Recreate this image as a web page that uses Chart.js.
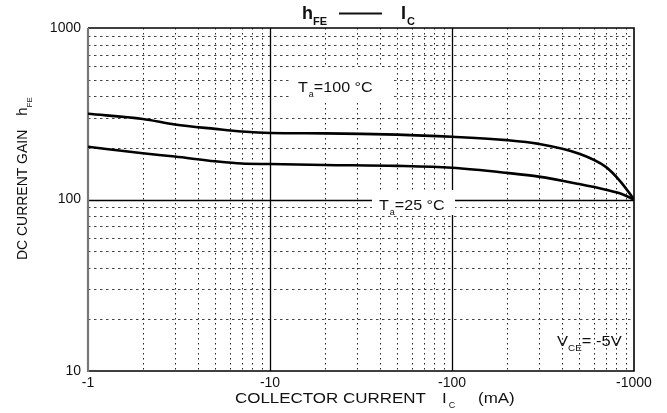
<!DOCTYPE html>
<html>
<head>
<meta charset="utf-8">
<script src="https://cdn.jsdelivr.net/npm/chart.js@4.4.1/dist/chart.umd.min.js"></script>
<style>
  body { margin: 0; background: #fff; }
  canvas { display: block; }
</style>
</head>
<body>
<canvas id="hfe" width="667" height="413"></canvas>
<script>
// collector current magnitude (mA), axis shows it as negative
const current = [1, 2, 3, 5, 7, 10, 20, 50, 100, 200, 300, 500, 700, 850, 1000]
const gain100 = [316, 295, 274, 258, 249, 244, 243, 239, 232, 222, 211, 185, 155, 126, 100]
const gain25 = [203, 186, 178, 167, 162, 161, 159, 157, 153, 143, 136, 123, 114, 108, 100]
const xTicks = [1, 10, 100, 1000]
const yTicks = [10, 100, 1000]

const FONT = "'Liberation Sans', Arial, sans-serif"

function pairs(xs, ys) {
  return xs.map((x, i) => ({ x: x, y: ys[i] }))
}

function txt(ctx, s, x, y, size, bold, sx) {
  ctx.save()
  ctx.translate(x, y)
  ctx.scale(sx || 1, 1)
  ctx.font = (bold ? 'bold ' : '') + size + 'px ' + FONT
  ctx.fillText(s, 0, 0)
  const w = ctx.measureText(s).width * (sx || 1)
  ctx.restore()
  return x + w
}

// grid, frame and label boxes, drawn from the scales
const gridPlugin = {
  id: 'gridPlugin',
  beforeDatasetsDraw(chart) {
    const ctx = chart.ctx
    const a = chart.chartArea
    const xs = chart.scales.x
    const ys = chart.scales.y
    ctx.save()
    ctx.lineWidth = 1

    // minor dotted lines
    for (let d = 1; d < 1000; d *= 10) {
      for (let k = 2; k <= 9; k++) {
        const px = Math.round(xs.getPixelForValue(d * k)) + 0.5
        ctx.strokeStyle = '#222'
        ctx.setLineDash([1.5, 3.5])
        ctx.beginPath(); ctx.moveTo(px, a.top); ctx.lineTo(px, a.bottom); ctx.stroke()
      }
    }
    for (let d = 10; d < 1000; d *= 10) {
      for (let k = 2; k <= 9; k++) {
        const py = Math.round(ys.getPixelForValue(d * k)) + 0.5
        ctx.strokeStyle = '#444'
        ctx.setLineDash([2.5, 3.5])
        ctx.beginPath(); ctx.moveTo(a.left, py); ctx.lineTo(a.right, py); ctx.stroke()
      }
    }

    // decade lines
    ctx.setLineDash([])
    ctx.strokeStyle = '#000'
    ctx.lineWidth = 1.3
    ;[10, 100].forEach(v => {
      const px = Math.round(xs.getPixelForValue(v)) + 0.5
      ctx.beginPath(); ctx.moveTo(px, a.top); ctx.lineTo(px, a.bottom); ctx.stroke()
    })
    const p100 = Math.round(ys.getPixelForValue(100)) + 0.5
    ctx.beginPath(); ctx.moveTo(a.left, p100); ctx.lineTo(a.right, p100); ctx.stroke()

    // white boxes behind the temperature labels
    ctx.fillStyle = '#fff'
    ctx.fillRect(292, 68, 102, 35)
    ctx.fillRect(372, 190, 83, 25)

    // frame
    ctx.lineWidth = 1.6
    ctx.strokeStyle = '#000'
    ctx.beginPath()
    ctx.moveTo(a.left, a.top); ctx.lineTo(a.right, a.top)
    ctx.lineTo(a.right, a.bottom); ctx.lineTo(a.left, a.bottom)
    ctx.stroke()
    ctx.strokeStyle = '#777'
    ctx.lineWidth = 2.2
    ctx.beginPath(); ctx.moveTo(a.left, a.top); ctx.lineTo(a.left, a.bottom + 1); ctx.stroke()
    ctx.restore()
  },
  afterDraw(chart) {
    const ctx = chart.ctx
    ctx.save()
    ctx.fillStyle = '#111'
    ctx.textBaseline = 'alphabetic'

    // title  hFE —— IC
    let x = txt(ctx, 'h', 302, 19, 18, true)
    txt(ctx, 'FE', x, 25, 11, true)
    ctx.strokeStyle = '#111'
    ctx.lineWidth = 1.8
    ctx.beginPath(); ctx.moveTo(339, 13.5); ctx.lineTo(382, 13.5); ctx.stroke()
    x = txt(ctx, 'I', 401, 19, 18, true)
    txt(ctx, 'C', x + 1, 25, 11, true)

    // temperature labels
    x = txt(ctx, 'T', 298, 92, 14, false, 1.15)
    x = txt(ctx, 'a', x + 1, 97, 9, false)
    txt(ctx, '=100 °C', x, 92, 14, false, 1.15)
    x = txt(ctx, 'T', 379, 210, 14, false, 1.15)
    x = txt(ctx, 'a', x + 1, 215, 9, false)
    txt(ctx, '=25 °C', x, 210, 14, false, 1.15)

    // VCE label
    x = txt(ctx, 'V', 557, 346, 15, false, 1.1)
    x = txt(ctx, 'CE', x, 351, 9, false, 1.1)
    txt(ctx, '= -5V', x, 346, 15, false, 1.1)

    // x axis title
    x = txt(ctx, 'COLLECTOR CURRENT', 235, 403, 15, false, 1.13)
    x = txt(ctx, 'I', 442, 403, 15, false, 1.13)
    txt(ctx, 'C', x + 2, 408, 9, false)
    txt(ctx, '(mA)', 478, 403, 15, false, 1.13)

    // y axis title (rotated)
    ctx.translate(27, 260)
    ctx.rotate(-Math.PI / 2)
    x = txt(ctx, 'DC CURRENT GAIN', 0, 0, 15, false, 0.93)
    x = txt(ctx, 'h', x + 14, 0, 15, false)
    txt(ctx, 'FE', x, 5, 8, false)
    ctx.restore()
  }
}

const ctxHfe = document.getElementById('hfe').getContext('2d')
new Chart(ctxHfe, {
  type: 'line',
  data: {
    datasets: [{
      label: 'Ta=100 °C',
      data: pairs(current, gain100),
      borderColor: '#000',
      borderWidth: 2.6,
      pointRadius: 0,
      cubicInterpolationMode: 'monotone'
    }, {
      label: 'Ta=25 °C',
      data: pairs(current, gain25),
      borderColor: '#000',
      borderWidth: 2.6,
      pointRadius: 0,
      cubicInterpolationMode: 'monotone'
    }]
  },
  options: {
    responsive: false,
    animation: false,
    layout: { padding: { top: 28, right: 33, left: 0, bottom: 0 } },
    plugins: { legend: { display: false }, tooltip: { enabled: false } },
    scales: {
      x: {
        type: 'logarithmic',
        min: 1,
        max: 1000,
        grid: { display: false, drawTicks: false },
        border: { display: false },
        afterBuildTicks: s => { s.ticks = xTicks.map(v => ({ value: v })) },
        afterFit: s => { s.height = 42 },
        ticks: {
          autoSkip: false,
          maxRotation: 0,
          padding: 4,
          color: '#111',
          font: { family: FONT, size: 14 },
          callback: v => '-' + v
        }
      },
      y: {
        type: 'logarithmic',
        min: 10,
        max: 1000,
        grid: { display: false, drawTicks: false },
        border: { display: false },
        afterBuildTicks: s => { s.ticks = yTicks.map(v => ({ value: v })) },
        afterFit: s => { s.width = 88 },
        ticks: {
          autoSkip: false,
          padding: 7,
          color: '#111',
          font: { family: FONT, size: 14 },
          callback: v => String(v)
        }
      }
    }
  },
  plugins: [gridPlugin]
})
</script>
</body>
</html>
